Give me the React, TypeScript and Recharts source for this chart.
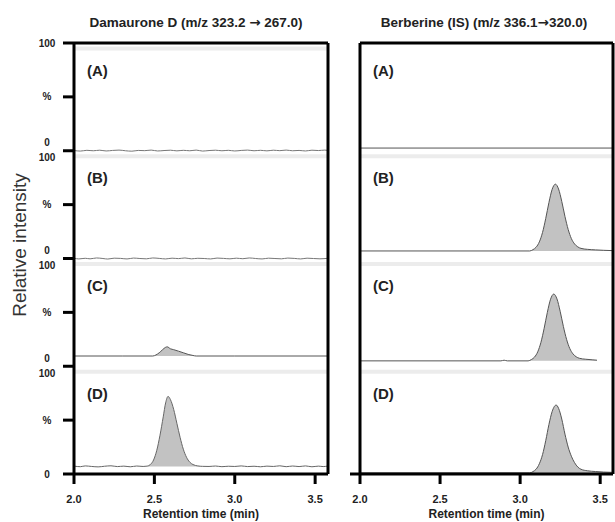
import React from 'react';
import { ComposedChart, Line, Area, XAxis, YAxis, ReferenceLine } from 'recharts';

const FONT = '"Liberation Sans", Arial, Helvetica, sans-serif';

const X_DOMAIN: [number, number] = [2.0, 3.58];
const X_TICKS = [2.0, 2.5, 3.0, 3.5];
const Y_TICKS = [0, 50, 100, 150, 200, 250, 300, 350, 400];
const SUBPLOT_LABELS = ['(A)', '(B)', '(C)', '(D)'];
const LEFT_TITLE = ['Damaurone D (m/z 323.2 ', '\u2192', ' 267.0)'];
const RIGHT_TITLE = ['Berberine (IS) (m/z 336.1', '\u2192', '320.0)'];
const Y_LABEL = 'Relative intensity';
const X_LABEL = 'Retention time (min)';

// Damaurone D channel, relative intensity (%) per subplot
const DAM_A = [
  [2.0, 0.2], [2.04, -0.3], [2.08, 0.4], [2.12, 0.0], [2.16, 0.5], [2.2, -0.2], [2.24, 0.3], [2.28, 0.6],
  [2.32, 0.0], [2.36, -0.4], [2.4, 0.3], [2.44, 0.1], [2.48, 0.6], [2.52, -0.2], [2.56, 0.2], [2.6, 0.5],
  [2.64, -0.1], [2.68, 0.4], [2.72, 0.0], [2.76, 0.6], [2.8, -0.3], [2.84, 0.2], [2.88, 0.5], [2.92, 0.0],
  [2.96, 0.4], [3.0, -0.2], [3.04, 0.3], [3.08, 0.6], [3.12, 0.0], [3.16, 0.4], [3.2, -0.1], [3.24, 0.5],
  [3.28, 0.1], [3.32, 0.6], [3.36, 0.0], [3.4, 0.3], [3.44, -0.2], [3.48, 0.5], [3.52, 0.2], [3.56, 0.6], [3.58, 0.3],
];
const DAM_B = [
  [2.0, 0.3], [2.03, -0.4], [2.07, 0.2], [2.1, -0.3], [2.14, 0.5], [2.18, 0.0], [2.21, -0.5], [2.25, 0.3],
  [2.29, 0.1], [2.33, -0.4], [2.37, 0.4], [2.41, 0.0], [2.45, -0.3], [2.49, 0.5], [2.53, 0.1], [2.57, -0.4],
  [2.61, 0.3], [2.65, -0.1], [2.69, 0.5], [2.73, -0.3], [2.77, 0.2], [2.81, 0.0], [2.85, -0.4], [2.89, 0.4],
  [2.93, 0.1], [2.97, -0.3], [3.01, 0.3], [3.05, -0.2], [3.09, 0.5], [3.13, 0.0], [3.17, -0.4], [3.21, 0.3],
  [3.25, 0.0], [3.29, -0.3], [3.33, 0.4], [3.37, 0.1], [3.41, -0.4], [3.45, 0.3], [3.49, 0.0], [3.53, -0.3], [3.58, 0.2],
];
const DAM_C = [
  [2.0, 9.5], [2.3, 9.5], [2.49, 9.5], [2.51, 10.5], [2.53, 12.5], [2.55, 15.2], [2.57, 17.6], [2.58, 18.0],
  [2.6, 16.2], [2.62, 15.4], [2.65, 14.0], [2.68, 12.5], [2.71, 11.0], [2.74, 10.0], [2.76, 9.5], [3.0, 9.5], [3.58, 9.5],
];
const DAM_D = [
  [2.0, 7.3], [2.04, 6.8], [2.07, 7.5], [2.11, 7.0], [2.15, 6.6], [2.19, 7.2], [2.23, 7.6], [2.27, 6.9],
  [2.31, 7.3], [2.35, 6.7], [2.39, 7.4], [2.43, 7.0], [2.455, 7.3], [2.475, 8.8], [2.495, 13], [2.515, 22],
  [2.535, 36], [2.555, 53], [2.57, 66], [2.585, 72], [2.6, 69], [2.62, 60], [2.64, 47], [2.66, 34],
  [2.68, 23], [2.7, 15.5], [2.72, 11], [2.74, 8.8], [2.77, 7.5], [2.8, 7.1], [2.84, 7.0], [2.88, 7.4],
  [2.92, 6.8], [2.96, 7.2], [3.0, 7.0], [3.04, 7.5], [3.08, 6.9], [3.12, 7.2], [3.16, 6.7], [3.2, 7.3],
  [3.24, 7.0], [3.28, 7.6], [3.32, 6.8], [3.36, 7.4], [3.4, 6.9], [3.44, 7.5], [3.48, 6.7], [3.52, 7.3], [3.55, 6.9], [3.58, 7.4],
];

// Berberine (IS) channel
const BER_A = [[2.0, 2.5], [3.58, 2.5]];
const BER_B = [
  [2.0, 7], [3.06, 7], [3.08, 8.2], [3.1, 10.5], [3.12, 15.4], [3.14, 24.2], [3.16, 37.2], [3.18, 52],
  [3.2, 64.2], [3.22, 69], [3.24, 64.5], [3.26, 53], [3.28, 39], [3.3, 27], [3.32, 18.5], [3.34, 13.5],
  [3.36, 10.8], [3.38, 9.4], [3.42, 8.5], [3.47, 8], [3.52, 7.6], [3.58, 7.3],
];
const BER_C = [
  [2.0, 5], [2.88, 5], [2.9, 5.6], [2.92, 5], [3.05, 5], [3.07, 6.2], [3.09, 8.5], [3.11, 13.4],
  [3.13, 22.2], [3.15, 35.2], [3.17, 50], [3.19, 62.2], [3.21, 67], [3.23, 62.5], [3.25, 51], [3.27, 37],
  [3.29, 25], [3.31, 16.5], [3.33, 11.5], [3.35, 8.8], [3.37, 7.4], [3.41, 6.5], [3.45, 6], [3.48, 5.6],
];
const BER_D = [
  [2.0, 1], [3.06, 1], [3.08, 2.2], [3.1, 4.5], [3.12, 9.5], [3.14, 18], [3.16, 31], [3.18, 46],
  [3.2, 58], [3.225, 64], [3.24, 61], [3.26, 51], [3.28, 37], [3.3, 25], [3.32, 16.5], [3.34, 10.5],
  [3.36, 6.5], [3.38, 4.4], [3.42, 3.0], [3.47, 2.3], [3.52, 1.8], [3.58, 1.5],
];

type Trace = { pts: number[][]; base: number; peak?: [number, number]; color: string; band: boolean };

const LEFT_TRACES: Trace[] = [
  { pts: DAM_A, base: 0, color: '#777', band: true },
  { pts: DAM_B, base: 0, color: '#777', band: true },
  { pts: DAM_C, base: 9.5, peak: [2.49, 2.76], color: '#555', band: true },
  { pts: DAM_D, base: 7, peak: [2.455, 2.8], color: '#666', band: true },
];
const RIGHT_TRACES: Trace[] = [
  { pts: BER_A, base: 2.5, color: '#555', band: false },
  { pts: BER_B, base: 7, peak: [3.06, 3.58], color: '#555', band: true },
  { pts: BER_C, base: 5, peak: [3.05, 3.48], color: '#555', band: true },
  { pts: BER_D, base: 1, peak: [3.06, 3.58], color: '#555', band: true },
];

const LeftTick = (p: any) => {
  const v = p.payload.value;
  const x = p.x - 14;
  const y = p.y;
  const t = (s: string, dy: number) => (
    <text x={x} y={y + dy} textAnchor="middle" dominantBaseline="central" fontSize={10} fontWeight={700} fill="#222">
      {s}
    </text>
  );
  if (v === 400) return <g>{t('100', 0)}</g>;
  if (v === 0) return <g>{t('0', 0)}</g>;
  if (v % 100 === 50) return <g>{t('%', 0)}</g>;
  return <g>{t('0', -8)}{t('100', 7)}</g>;
};

const EmptyTick = () => <g />;

function Panel({ traces, width, yWidth, marginRight, leftTicks }: { traces: Trace[]; width: number; yWidth: number; marginRight: number; leftTicks: boolean }) {
  const series: React.ReactNode[] = [];
  traces.forEach((tr, i) => {
    const off = (3 - i) * 100;
    if (tr.peak) {
      const pk = tr.peak;
      const areaData = tr.pts
        .filter(([t]) => t >= pk[0] && t <= pk[1])
        .map(([t, v]) => ({ t, r: [off + tr.base, off + v] }));
      series.push(
        <Area key={'a' + i} data={areaData} dataKey="r" type="monotone" stroke="none" fill="#c2c2c2" fillOpacity={1} isAnimationActive={false} />
      );
    }
    const lineData = tr.pts.map(([t, v]) => ({ t, y: off + v }));
    series.push(
      <Line key={'l' + i} data={lineData} dataKey="y" type="monotone" stroke={tr.color} strokeWidth={1} dot={false} isAnimationActive={false} />
    );
  });
  const refs: React.ReactNode[] = [];
  traces.forEach((tr, i) => {
    const off = (3 - i) * 100;
    if (tr.band) {
      refs.push(<ReferenceLine key={'b' + i} y={off + 95} stroke="#ececec" strokeWidth={4} />);
    }
    refs.push(
      <ReferenceLine
        key={'t' + i}
        y={off + 100}
        stroke="none"
        label={(lp: any) => (
          <text x={lp.viewBox.x + 13} y={lp.viewBox.y + 27} dominantBaseline="central" fontSize={15} fontWeight={700} fill="#222">
            {SUBPLOT_LABELS[i]}
          </text>
        )}
      />
    );
  });
  return (
    <ComposedChart width={width} height={522} margin={{ top: 43, right: marginRight, bottom: 0, left: 0 }}>
      <XAxis
        type="number"
        dataKey="t"
        domain={X_DOMAIN}
        ticks={X_TICKS}
        allowDataOverflow
        height={48}
        tickFormatter={(v: number) => v.toFixed(1)}
        axisLine={{ stroke: '#000', strokeWidth: 3 }}
        tickLine={{ stroke: '#000', strokeWidth: 3 }}
        tickSize={10}
        tickMargin={11}
        tick={{ fontSize: 11, fontWeight: 700, fill: '#222' }}
        label={{ value: X_LABEL, position: 'insideBottom', offset: 4, fontSize: 12, fontWeight: 700, fill: '#222' }}
      />
      <YAxis
        type="number"
        domain={[0, 400]}
        ticks={leftTicks ? Y_TICKS : [0]}
        interval={0}
        width={yWidth}
        axisLine={{ stroke: '#000', strokeWidth: 3 }}
        tickLine={{ stroke: '#000', strokeWidth: 3 }}
        tickSize={leftTicks ? 11 : 10}
        tick={leftTicks ? LeftTick : EmptyTick}
      />
      {refs}
      {series}
      <ReferenceLine y={400} stroke="#000" strokeWidth={3} />
      <ReferenceLine x={X_DOMAIN[1]} stroke="#000" strokeWidth={3} />
    </ComposedChart>
  );
}

const titleStyle: React.CSSProperties = {
  position: 'absolute',
  top: 14,
  transform: 'translateX(-50%)',
  whiteSpace: 'nowrap',
  fontSize: 13.5,
  fontWeight: 700,
  lineHeight: '16px',
  color: '#222',
};
const arrowStyle: React.CSSProperties = { fontFamily: '"DejaVu Sans", sans-serif', fontWeight: 700 };

export default function App() {
  return (
    <div style={{ position: 'absolute', left: 0, top: 0, width: 615, height: 522, background: '#fff', fontFamily: FONT, overflow: 'hidden' }}>
      <div style={{ position: 'absolute', left: 0, top: 0 }}>
        <Panel traces={LEFT_TRACES} width={335} yWidth={74} marginRight={7} leftTicks={true} />
      </div>
      <div style={{ position: 'absolute', left: 335, top: 0 }}>
        <Panel traces={RIGHT_TRACES} width={280} yWidth={25} marginRight={2} leftTicks={false} />
      </div>
      <div style={{ ...titleStyle, left: 196 }}>
        {LEFT_TITLE[0]}<span style={arrowStyle}>{LEFT_TITLE[1]}</span>{LEFT_TITLE[2]}
      </div>
      <div style={{ ...titleStyle, left: 484 }}>
        {RIGHT_TITLE[0]}<span style={arrowStyle}>{RIGHT_TITLE[1]}</span>{RIGHT_TITLE[2]}
      </div>
      <div style={{ position: 'absolute', left: 20, top: 245, transform: 'translate(-50%, -50%) rotate(-90deg)', whiteSpace: 'nowrap', fontSize: 19, lineHeight: '22px', color: '#333' }}>
        {Y_LABEL}
      </div>
    </div>
  );
}
